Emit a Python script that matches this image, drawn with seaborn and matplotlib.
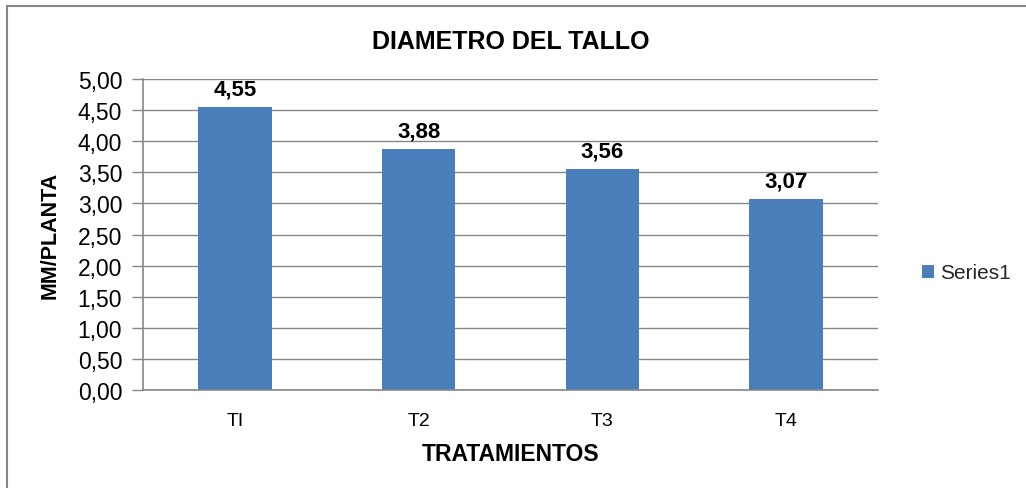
import matplotlib
matplotlib.use("Agg")
import matplotlib.pyplot as plt
import seaborn as sns
import pandas as pd
from matplotlib.patches import Rectangle, Patch
from matplotlib.ticker import FuncFormatter, MultipleLocator

categories = ["TI", "T2", "T3", "T4"]
values = [4.55, 3.88, 3.56, 3.07]
series_name = "Series1"

df = pd.DataFrame({"cat": categories, "val": values})

sns.set_theme(style="white")
plt.rcParams["font.family"] = ["Liberation Sans", "DejaVu Sans"]

fig = plt.figure(figsize=(10.26, 4.89), dpi=100)
ax = fig.add_axes([143/1026, 1 - 391/489, (878-143)/1026, (391-80)/489])

bar_color = "#4A7EBB"
sns.barplot(data=df, x="cat", y="val", color=bar_color, width=0.4, ax=ax,
            saturation=1, edgecolor="none")

ax.set_ylim(0, 5)
ax.set_xlim(-0.5, 3.5)
ax.yaxis.set_major_locator(MultipleLocator(0.5))
ax.yaxis.set_major_formatter(FuncFormatter(lambda v, p: f"{v:.2f}".replace(".", ",")))
ax.grid(axis="y", color="#868686", linewidth=1)
ax.set_axisbelow(True)
for s in ["top", "right"]:
    ax.spines[s].set_visible(False)
for s in ["left", "bottom"]:
    ax.spines[s].set_color("#868686")
    ax.spines[s].set_linewidth(1.2)
ax.tick_params(axis="y", which="major", length=8, color="#868686", width=1,
               left=True, labelsize=16.5, pad=7, labelcolor="#000000")
ax.tick_params(axis="x", length=0, labelsize=14, pad=16, labelcolor="#000000")

for i, v in enumerate(values):
    ax.text(i, v + 0.12, f"{v:.2f}".replace(".", ","), ha="center", va="bottom",
            fontsize=16, fontweight="bold", color="#000000")

ax.set_xlabel("TRATAMIENTOS", fontsize=16.5, fontweight="bold", labelpad=9, color="#000000")
ax.set_ylabel("MM/PLANTA", fontsize=15.5, fontweight="bold", color="#000000")
ax.yaxis.set_label_coords((61 - 143) / 735, 0.5)

fig.text(511/1026, 1 - 42/489, "DIAMETRO DEL TALLO", ha="center", va="center",
         fontsize=18, fontweight="bold", color="#000000")

handle = Patch(facecolor=bar_color, edgecolor="none")
fig.legend([handle], [series_name], loc="center left",
           bbox_to_anchor=(903/1026, 1 - 274/489), frameon=False,
           fontsize=15, handlelength=0.6, handleheight=0.6, handletextpad=0.3)

fig.patches.append(Rectangle((7/1026, -0.05), 1.0, 1.05 - 7/489, transform=fig.transFigure,
                             fill=False, edgecolor="#868686", linewidth=1.5))

fig.savefig("out.png", dpi=100, facecolor="white")
